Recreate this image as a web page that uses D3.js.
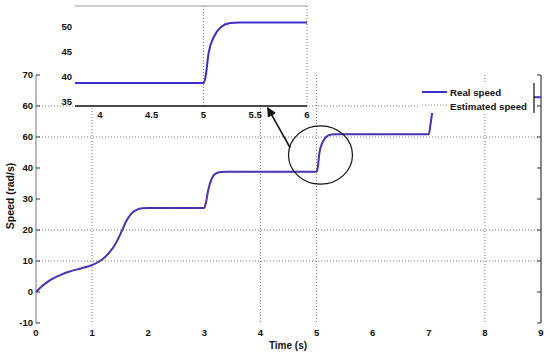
<!DOCTYPE html>
<html>
<head>
<meta charset="utf-8">
<script src="https://cdn.jsdelivr.net/npm/d3@7"></script>
<style>
  body { margin: 0; background: #fff; }
  text { font-family: "Liberation Sans", Arial, sans-serif; font-weight: bold; fill: #111; }
</style>
</head>
<body>
<div id="chart"></div>
<script>
// speed response
const time = [0, 0.1, 0.2, 0.3, 0.45, 0.6, 0.8, 1.0, 1.1, 1.2, 1.3, 1.4, 1.5, 1.55, 1.6, 1.7, 1.8, 1.9, 2.0,
  3.0, 3.03, 3.06, 3.1, 3.15, 3.2, 3.3, 3.4, 5.0, 5.02, 5.05, 5.1, 5.17, 5.26, 5.35, 7.0, 7.03, 7.06, 7.1, 7.2, 9.0];
const realSpeed = [0, 1.8, 3.2, 4.3, 5.6, 6.6, 7.6, 8.7, 9.6, 10.8, 12.6, 15.0, 18.5, 20.5, 22.6, 25.3, 26.6, 27.0, 27.1,
  27.1, 29.0, 32.0, 35.0, 37.2, 38.2, 38.7, 38.8, 38.8, 40.0, 44.8, 48.0, 50.0, 50.8, 50.9, 50.9, 54.0, 57.8, 60.5, 62.8, 62.8];
const estimatedSpeed = [0, 1.8, 3.2, 4.3, 5.6, 6.6, 7.6, 8.7, 9.6, 10.8, 12.6, 15.0, 18.5, 20.5, 22.6, 25.3, 26.6, 27.0, 27.1,
  27.1, 29.0, 32.0, 35.0, 37.2, 38.2, 38.7, 38.8, 38.8, 40.0, 44.8, 48.0, 50.0, 50.8, 50.9, 50.9, 54.0, 57.8, 60.5, 62.8, 62.8];

const xTicks = [0, 1, 2, 3, 4, 5, 6, 7, 8, 9];
const yTicks = [-10, 0, 10, 20, 30, 40, 50, 60, 70];
const yTickLabels = ["-10", "0", "10", "20", "30", "40", "60", "60", "70"];
const gridX = [1, 4, 5, 8];
const gridY = [10, 20, 50, 60];

const insetXTicks = [4, 4.5, 5, 5.5, 6];
const insetYTicks = [35, 40, 45, 50];
const insetGridX = [5, 6];

const legendLabels = ["Real speed", "Estimated speed"];

const width = 550, height = 354;
const blue = "#3b2fc4";
const gridColor = "#777";

const svg = d3.select("#chart").append("svg")
  .attr("width", width)
  .attr("height", height)
  .style("display", "block");

svg.append("rect").attr("width", width).attr("height", height).attr("fill", "#fff");

let x = d3.scaleLinear().domain([0, 9]).range([36, 541]);
let y = d3.scaleLinear().domain([-10, 70]).range([323, 75]);

const pts = time.map((t, i) => ({ t: t, real: realSpeed[i], est: estimatedSpeed[i] }));

// grid
svg.selectAll(".gx").data(gridX).enter().append("line")
  .attr("x1", d => x(d)).attr("x2", d => x(d))
  .attr("y1", y(70)).attr("y2", y(-10))
  .attr("stroke", gridColor).attr("stroke-width", 1).attr("stroke-dasharray", "1,2");
svg.selectAll(".gy").data(gridY).enter().append("line")
  .attr("x1", x(0)).attr("x2", x(9))
  .attr("y1", d => y(d)).attr("y2", d => y(d))
  .attr("stroke", gridColor).attr("stroke-width", 1).attr("stroke-dasharray", "1,2");

// axes
svg.append("line").attr("x1", x(0)).attr("x2", x(0)).attr("y1", y(70)).attr("y2", y(-10))
  .attr("stroke", "#bbb").attr("stroke-width", 2);
svg.append("line").attr("x1", x(9)).attr("x2", x(9)).attr("y1", y(70)).attr("y2", y(-10))
  .attr("stroke", "#888").attr("stroke-width", 2);

svg.selectAll(".ytk").data(yTicks).enter().append("line")
  .attr("x1", x(0)).attr("x2", x(0) + 4)
  .attr("y1", d => y(d)).attr("y2", d => y(d))
  .attr("stroke", "#333");
svg.selectAll(".ytk2").data(yTicks).enter().append("line")
  .attr("x1", x(9)).attr("x2", x(9) - 4)
  .attr("y1", d => y(d)).attr("y2", d => y(d))
  .attr("stroke", "#333");
svg.selectAll(".ylab").data(yTicks).enter().append("text")
  .attr("x", x(0) - 3).attr("y", d => y(d)).attr("dy", "0.35em")
  .attr("text-anchor", "end").style("font-size", "9.5px")
  .text((d, i) => yTickLabels[i]);

svg.selectAll(".xlab").data(xTicks).enter().append("text")
  .attr("x", d => x(d)).attr("y", y(-10) + 13)
  .attr("text-anchor", "middle").style("font-size", "9.5px")
  .text(d => d);

svg.append("text").attr("x", 288).attr("y", 349).attr("text-anchor", "middle")
  .style("font-size", "10px").text("Time (s)");
svg.append("text").attr("transform", "translate(14,196) rotate(-90)").attr("text-anchor", "middle")
  .style("font-size", "10.5px").text("Speed (rad/s)");

// main curves
const line = d3.line().x(d => x(d.t)).curve(d3.curveMonotoneX);
svg.append("path").datum(pts).attr("d", line.y(d => y(d.real)))
  .attr("fill", "none").attr("stroke", blue).attr("stroke-width", 2);
svg.append("path").datum(pts).attr("d", line.y(d => y(d.est)))
  .attr("fill", "none").attr("stroke", "#b04a3a").attr("stroke-width", 0.8).attr("stroke-dasharray", "1,2");

// legend box (covers the curve)
const lg = svg.append("g");
lg.append("rect").attr("x", 419).attr("y", 82).attr("width", 115).attr("height", 31).attr("fill", "#fff");
lg.append("line").attr("x1", 534).attr("x2", 534).attr("y1", 83).attr("y2", 113).attr("stroke", "#111").attr("stroke-width", 1.2);
lg.append("line").attr("x1", 422).attr("x2", 447).attr("y1", 92).attr("y2", 92).attr("stroke", blue).attr("stroke-width", 2);
lg.append("line").attr("x1", 422).attr("x2", 447).attr("y1", 105).attr("y2", 105)
  .attr("stroke", "#a07850").attr("stroke-width", 1.2).attr("stroke-dasharray", "1,2");
lg.selectAll("text").data(legendLabels).enter().append("text")
  .attr("x", 450).attr("y", (d, i) => 96 + i * 13.5).style("font-size", "9.7px").text(d => d);

// ellipse + arrow
svg.append("ellipse").attr("cx", x(5.07)).attr("cy", y(44.2))
  .attr("rx", x(5.64) - x(5.07)).attr("ry", y(44.2) - y(53.6))
  .attr("fill", "none").attr("stroke", "#111").attr("stroke-width", 1.2);
svg.append("defs").append("marker").attr("id", "ah").attr("viewBox", "0 0 10 10")
  .attr("refX", 9).attr("refY", 5).attr("markerWidth", 6).attr("markerHeight", 6).attr("orient", "auto")
  .append("path").attr("d", "M0,0 L10,5 L0,10 z").attr("fill", "#111");
svg.append("line").attr("x1", x(4.53)).attr("y1", y(46.5)).attr("x2", x(4.13)).attr("y2", y(59.4))
  .attr("stroke", "#111").attr("stroke-width", 1.6).attr("marker-end", "url(#ah)");

// inset
const ix = d3.scaleLinear().domain([3.76, 6]).range([75, 307]);
const iy = d3.scaleLinear().domain([34.2, 54.2]).range([106, 6]);
const inset = svg.append("g");
inset.append("rect").attr("x", 75).attr("y", 0).attr("width", 236).attr("height", 106).attr("fill", "#fff");
svg.append("clipPath").attr("id", "ic").append("rect")
  .attr("x", ix(3.76)).attr("y", iy(54.2)).attr("width", ix(6) - ix(3.76)).attr("height", iy(34.2) - iy(54.2));
inset.selectAll(".igx").data(insetGridX).enter().append("line")
  .attr("x1", d => ix(d)).attr("x2", d => ix(d)).attr("y1", iy(54.2)).attr("y2", iy(34.2))
  .attr("stroke", gridColor).attr("stroke-dasharray", "1,2");
inset.append("line").attr("x1", ix(3.76)).attr("x2", ix(6)).attr("y1", iy(54.2)).attr("y2", iy(54.2))
  .attr("stroke", "#999").attr("stroke-width", 1.2);
inset.append("line").attr("x1", ix(3.76)).attr("x2", ix(6)).attr("y1", iy(34.2)).attr("y2", iy(34.2))
  .attr("stroke", "#111").attr("stroke-width", 1.6);
const iline = d3.line().x(d => ix(d.t)).y(d => iy(d.real)).curve(d3.curveMonotoneX);
inset.append("path").datum(pts).attr("d", iline).attr("clip-path", "url(#ic)")
  .attr("fill", "none").attr("stroke", blue).attr("stroke-width", 2);
inset.selectAll(".ixl").data(insetXTicks).enter().append("text")
  .attr("x", d => ix(d)).attr("y", iy(34.2) + 12).attr("text-anchor", "middle")
  .style("font-size", "9.5px").text(d => d);
inset.selectAll(".iyl").data(insetYTicks).enter().append("text")
  .attr("x", ix(3.76) - 3).attr("y", d => iy(d)).attr("dy", "0.35em").attr("text-anchor", "end")
  .style("font-size", "9.5px").text(d => d);
</script>
</body>
</html>
